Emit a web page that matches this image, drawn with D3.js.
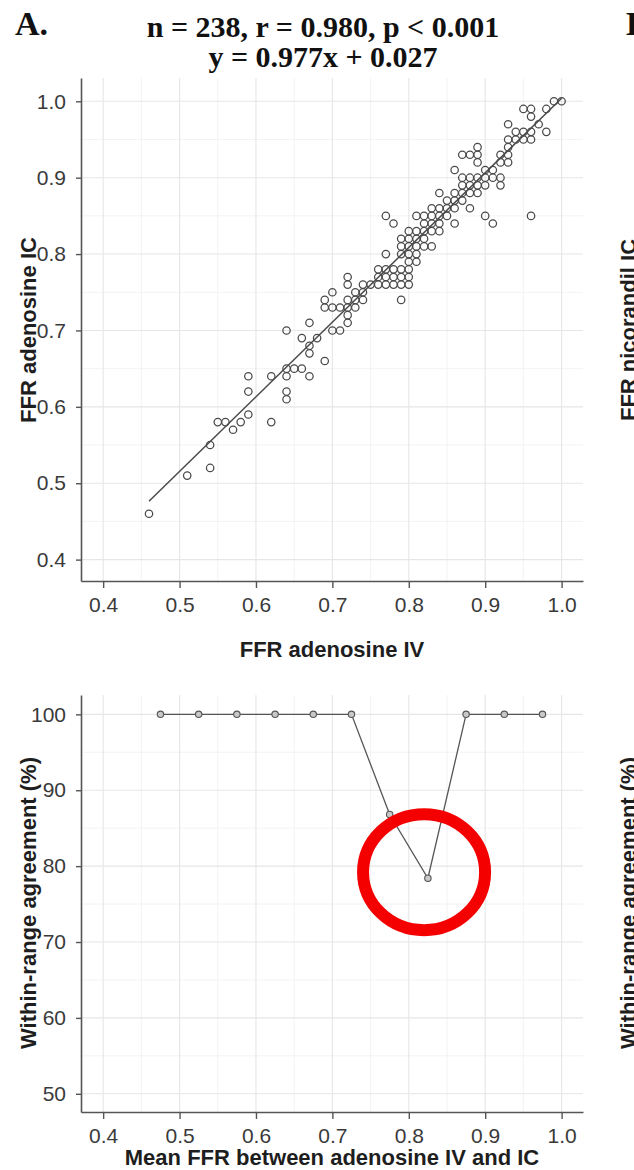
<!DOCTYPE html>
<html>
<head>
<meta charset="utf-8">
<title>FFR adenosine IV vs IC</title>
<script src="https://cdn.jsdelivr.net/npm/d3@7"></script>
<style>
	body { margin: 0; background: #fff; }
	svg { display: block; }
	.tick text { font-family: "Liberation Sans", Arial, sans-serif; font-size: 21px; fill: #3a3a3a; }
	.axis path { stroke: #555; stroke-width: 1.6; }
	.axis line { stroke: #555; stroke-width: 1.4; }
	.major { stroke: #e6e6e6; stroke-width: 1.1; }
	.minor { stroke: #f2f2f2; stroke-width: 0.9; }
	.title { font-family: "Liberation Serif", "Times New Roman", serif; font-weight: bold; fill: #111; }
	.atitle { font-family: "Liberation Sans", Arial, sans-serif; font-weight: bold; font-size: 22px; fill: #1e1e1e; }
</style>
</head>
<body>
<script>
// panel A, top: FFR adenosine IV (x) vs IC (y)
var scatterPoints = [
	[0.46,0.46],[0.51,0.51],[0.54,0.52],[0.54,0.55],[0.55,0.58],[0.56,0.58],[0.57,0.57],[0.58,0.58],
	[0.59,0.59],[0.59,0.62],[0.59,0.64],[0.62,0.58],[0.62,0.64],[0.64,0.61],[0.64,0.62],[0.64,0.64],
	[0.64,0.65],[0.65,0.65],[0.66,0.65],[0.67,0.64],[0.69,0.66],[0.67,0.67],[0.66,0.69],[0.67,0.68],
	[0.64,0.70],[0.67,0.71],[0.68,0.69],[0.70,0.70],[0.71,0.70],[0.72,0.71],[0.69,0.73],[0.69,0.74],
	[0.70,0.73],[0.71,0.73],[0.72,0.73],[0.72,0.72],[0.73,0.74],[0.74,0.74],[0.73,0.73],[0.72,0.74],
	[0.70,0.75],[0.73,0.75],[0.74,0.75],[0.72,0.76],[0.72,0.77],[0.74,0.76],[0.75,0.76],[0.76,0.76],
	[0.77,0.76],[0.78,0.76],[0.79,0.76],[0.80,0.76],[0.79,0.74],[0.76,0.77],[0.77,0.77],[0.78,0.77],
	[0.79,0.77],[0.80,0.77],[0.76,0.78],[0.77,0.78],[0.78,0.78],[0.79,0.78],[0.80,0.78],[0.80,0.79],
	[0.81,0.79],[0.77,0.80],[0.79,0.80],[0.80,0.80],[0.81,0.80],[0.79,0.81],[0.80,0.81],[0.81,0.81],
	[0.82,0.81],[0.83,0.81],[0.79,0.82],[0.80,0.82],[0.81,0.82],[0.82,0.82],[0.80,0.83],[0.81,0.83],
	[0.82,0.83],[0.83,0.83],[0.84,0.83],[0.82,0.84],[0.83,0.84],[0.84,0.84],[0.86,0.84],[0.78,0.84],
	[0.77,0.85],[0.81,0.85],[0.82,0.85],[0.83,0.85],[0.84,0.85],[0.85,0.85],[0.90,0.85],[0.91,0.84],
	[0.96,0.85],[0.83,0.86],[0.84,0.86],[0.85,0.86],[0.86,0.86],[0.88,0.86],[0.85,0.87],[0.86,0.87],
	[0.87,0.87],[0.84,0.88],[0.86,0.88],[0.87,0.88],[0.88,0.88],[0.89,0.88],[0.87,0.89],[0.88,0.89],
	[0.89,0.89],[0.90,0.89],[0.92,0.89],[0.87,0.90],[0.88,0.90],[0.89,0.90],[0.90,0.90],[0.91,0.90],
	[0.92,0.90],[0.86,0.91],[0.90,0.91],[0.91,0.91],[0.89,0.92],[0.92,0.92],[0.93,0.92],[0.87,0.93],
	[0.88,0.93],[0.89,0.93],[0.92,0.93],[0.93,0.93],[0.89,0.94],[0.93,0.94],[0.93,0.95],[0.94,0.95],
	[0.95,0.95],[0.96,0.95],[0.94,0.96],[0.95,0.96],[0.96,0.96],[0.98,0.96],[0.93,0.97],[0.97,0.97],
	[0.96,0.98],[0.95,0.99],[0.96,0.99],[0.98,0.99],[0.99,1.00],[1.00,1.00]
];
var fitSlope = 0.977, fitIntercept = 0.027;
var fitFrom = 0.46, fitTo = 1.0;
var titleLines = ["n = 238, r = 0.980, p < 0.001", "y = 0.977x + 0.027"];

// panel A, bottom: within-range agreement per FFR bin
var binMids = [0.475, 0.525, 0.575, 0.625, 0.675, 0.725, 0.775, 0.825, 0.875, 0.925, 0.975];
var agreement = [100, 100, 100, 100, 100, 100, 86.8, 78.4, 100, 100, 100];

var ffrTicks = [0.4, 0.5, 0.6, 0.7, 0.8, 0.9, 1.0];
var ffrMinor = [0.45, 0.55, 0.65, 0.75, 0.85, 0.95];
var agreeTicks = [50, 60, 70, 80, 90, 100];
var agreeMinor = [55, 65, 75, 85, 95];

var W = 634, H = 1170;
var svg = d3.select("body").append("svg").attr("width", W).attr("height", H);

var x = d3.scaleLinear().domain([0.371, 1.028]).range([81, 583]);
var yTop = d3.scaleLinear().domain([0.372, 1.0305]).range([581, 78]);
var yBot = d3.scaleLinear().domain([47.6, 102.55]).range([1112, 695]);

function drawGrid(g, xs, ys, xVals, yVals, cls) {
	g.selectAll("line.v" + cls).data(xVals).enter().append("line")
		.attr("class", cls)
		.attr("x1", function(d) { return xs(d); }).attr("x2", function(d) { return xs(d); })
		.attr("y1", ys.range()[0]).attr("y2", ys.range()[1]);
	g.selectAll("line.h" + cls).data(yVals).enter().append("line")
		.attr("class", cls)
		.attr("y1", function(d) { return ys(d); }).attr("y2", function(d) { return ys(d); })
		.attr("x1", xs.range()[0]).attr("x2", xs.range()[1]);
}

function drawAxes(ys, yTicks, yFormat) {
	svg.append("g").attr("class", "axis")
		.attr("transform", "translate(0," + ys.range()[0] + ")")
		.call(d3.axisBottom(x).tickValues(ffrTicks).tickFormat(d3.format(".1f"))
			.tickSize(7).tickSizeOuter(0).tickPadding(9));
	svg.append("g").attr("class", "axis")
		.attr("transform", "translate(" + x.range()[0] + ",0)")
		.call(d3.axisLeft(ys).tickValues(yTicks).tickFormat(yFormat)
			.tickSize(5).tickSizeOuter(0).tickPadding(10));
}

// ---- top scatter ----
var gTop = svg.append("g");
drawGrid(gTop.append("g"), x, yTop, ffrMinor, ffrMinor, "minor");
drawGrid(gTop.append("g"), x, yTop, ffrTicks, ffrTicks, "major");

var fitLine = d3.line()
	.x(function(d) { return x(d); })
	.y(function(d) { return yTop(fitSlope * d + fitIntercept); });
gTop.append("path").datum([fitFrom, fitTo])
	.attr("d", fitLine).attr("fill", "none")
	.attr("stroke", "#4a4a4a").attr("stroke-width", 1.5);

gTop.selectAll("circle").data(scatterPoints).enter().append("circle")
	.attr("cx", function(d) { return x(d[0]); })
	.attr("cy", function(d) { return yTop(d[1]); })
	.attr("r", 3.7)
	.attr("fill", "none").attr("stroke", "#4a4a4a").attr("stroke-width", 1.25);

drawAxes(yTop, ffrTicks, d3.format(".1f"));

// ---- bottom agreement ----
var gBot = svg.append("g");
drawGrid(gBot.append("g"), x, yBot, ffrMinor, agreeMinor, "minor");
drawGrid(gBot.append("g"), x, yBot, ffrTicks, agreeTicks, "major");

var agreeLine = d3.line()
	.x(function(d, i) { return x(binMids[i]); })
	.y(function(d) { return yBot(d); });
gBot.append("path").datum(agreement)
	.attr("d", agreeLine).attr("fill", "none")
	.attr("stroke", "#555").attr("stroke-width", 1.3);
gBot.selectAll("circle").data(agreement).enter().append("circle")
	.attr("cx", function(d, i) { return x(binMids[i]); })
	.attr("cy", function(d) { return yBot(d); })
	.attr("r", 3.2)
	.attr("fill", "#c8c8c8").attr("stroke", "#555").attr("stroke-width", 1.1);

// red highlight ring round the dip
gBot.append("ellipse")
	.attr("cx", x(0.82)).attr("cy", yBot(79.2))
	.attr("rx", 61).attr("ry", 58)
	.attr("fill", "none").attr("stroke", "#f40000").attr("stroke-width", 12);

drawAxes(yBot, agreeTicks, d3.format("d"));

// ---- texts ----
svg.append("text").attr("class", "title").attr("x", 15).attr("y", 35)
	.style("font-size", "34px").text("A.");
svg.append("text").attr("class", "title").attr("x", 626).attr("y", 35)
	.style("font-size", "34px").text("B.");
titleLines.forEach(function(t, i) {
	svg.append("text").attr("class", "title")
		.attr("x", 323).attr("y", 37 + i * 30)
		.attr("text-anchor", "middle").style("font-size", "30px").text(t);
});

svg.append("text").attr("class", "atitle").attr("text-anchor", "middle")
	.attr("x", 332).attr("y", 657).text("FFR adenosine IV");
svg.append("text").attr("class", "atitle").attr("text-anchor", "middle")
	.attr("transform", "translate(36,330) rotate(-90)").text("FFR adenosine IC");
svg.append("text").attr("class", "atitle").attr("text-anchor", "middle")
	.attr("x", 332).attr("y", 1165).text("Mean FFR between adenosine IV and IC");
svg.append("text").attr("class", "atitle").attr("text-anchor", "middle")
	.attr("transform", "translate(36,903) rotate(-90)").text("Within-range agreement (%)");

// cut-off titles of panel B at the right edge
svg.append("text").attr("class", "atitle").attr("text-anchor", "middle")
	.attr("transform", "translate(636,330) rotate(-90)").text("FFR nicorandil IC");
svg.append("text").attr("class", "atitle").attr("text-anchor", "middle")
	.attr("transform", "translate(636,903) rotate(-90)").text("Within-range agreement (%)");
</script>
</body>
</html>
